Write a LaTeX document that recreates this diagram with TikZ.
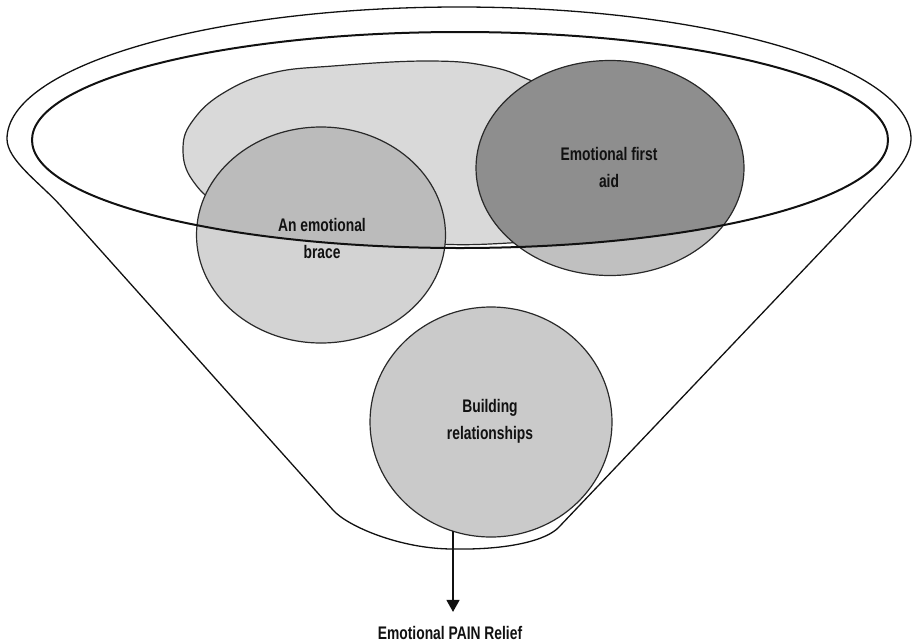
\documentclass[tikz,border=0pt]{standalone}
\usepackage{fontspec}
\usepackage{tikz}
\usetikzlibrary{arrows.meta,calc,positioning}
\newfontfamily\condfont[FakeStretch=0.76]{Liberation Sans}
\usepackage{xcolor}
\definecolor{ink}{HTML}{111111}
\definecolor{haze}{HTML}{D9D9D9}
\definecolor{pale}{HTML}{D3D3D3}
\definecolor{dusk}{HTML}{BBBBBB}
\definecolor{steel}{HTML}{C0C0C0}
\definecolor{slate}{HTML}{8E8E8E}
\definecolor{cloud}{HTML}{CACACA}
\tikzset{funnelline/.style={draw=ink,line width=.65pt,line join=round},rimline/.style={draw=ink,line width=1pt},discline/.style={draw=ink!90,line width=.6pt},disclabel/.style={font=\condfont\bfseries\fontsize{9.1}{13.5}\selectfont,align=center,text=ink,inner sep=1pt},pointer/.style={draw=ink,line width=.7pt,-{Triangle[length=6pt,width=6.5pt]}}}

\begin{document}
\begin{tikzpicture}[x=.5pt,y=-.5pt]
\useasboundingbox (0,0) rectangle (919,643);
\coordinate (rimc) at (460,140);\coordinate (bracec) at (321,235);\coordinate (aidc) at (610,168);\coordinate (bldc) at (491,422);
% funnel outline
\draw[funnelline] (7,139) arc[start angle=180,end angle=360,x radius=452,y radius=132]
  .. controls (911,160) and (885,184) .. (866,204) -- (559,527)
  .. controls (547,540) and (510,550) .. (453,549)
  .. controls (400,549) and (347,526) .. (333,510) -- (60,205)
  .. controls (40,183) and (7,160) .. (7,139);
% back disc
\filldraw[fill=haze,discline] plot[smooth cycle,tension=.7] coordinates {(183,148) (194,119) (225,92) (272,73) (333,66) (430,61) (492,67) (540,84) (615,112) (672,150) (670,196) (600,230) (490,244) (390,240) (295,226) (226,207) (193,181)};
% discs in the glass
\fill[pale] (bracec) ellipse[x radius=124.5,y radius=108];
\fill[steel] (aidc) ellipse[x radius=134,y radius=107.5];
\begin{scope}
\clip (rimc) ellipse[x radius=428,y radius=108];
\fill[dusk] (bracec) ellipse[x radius=124.5,y radius=108];
\fill[slate] (aidc) ellipse[x radius=134,y radius=107.5];
\end{scope}
\draw[discline] (bracec) ellipse[x radius=124.5,y radius=108];
\draw[discline] (aidc) ellipse[x radius=134,y radius=107.5];
\filldraw[fill=cloud,discline] (bldc) ellipse[x radius=121,y radius=115];
% rim
\draw[rimline] (rimc) ellipse[x radius=428,y radius=108];
% labels
\node[disclabel] (brace) at (322,238) {An emotional\\brace};
\node[disclabel] (aid) at (609,167) {Emotional first\\aid};
\node[disclabel] (bld) at (490,421) {Building\\relationships};
\node[disclabel] (relief) at (450,633) {Emotional PAIN Relief};
\coordinate (bldfoot) at (453,531);
\draw[pointer] (bldfoot) -- ([yshift=6pt]bldfoot |- relief.north);
\end{tikzpicture}
\end{document}
